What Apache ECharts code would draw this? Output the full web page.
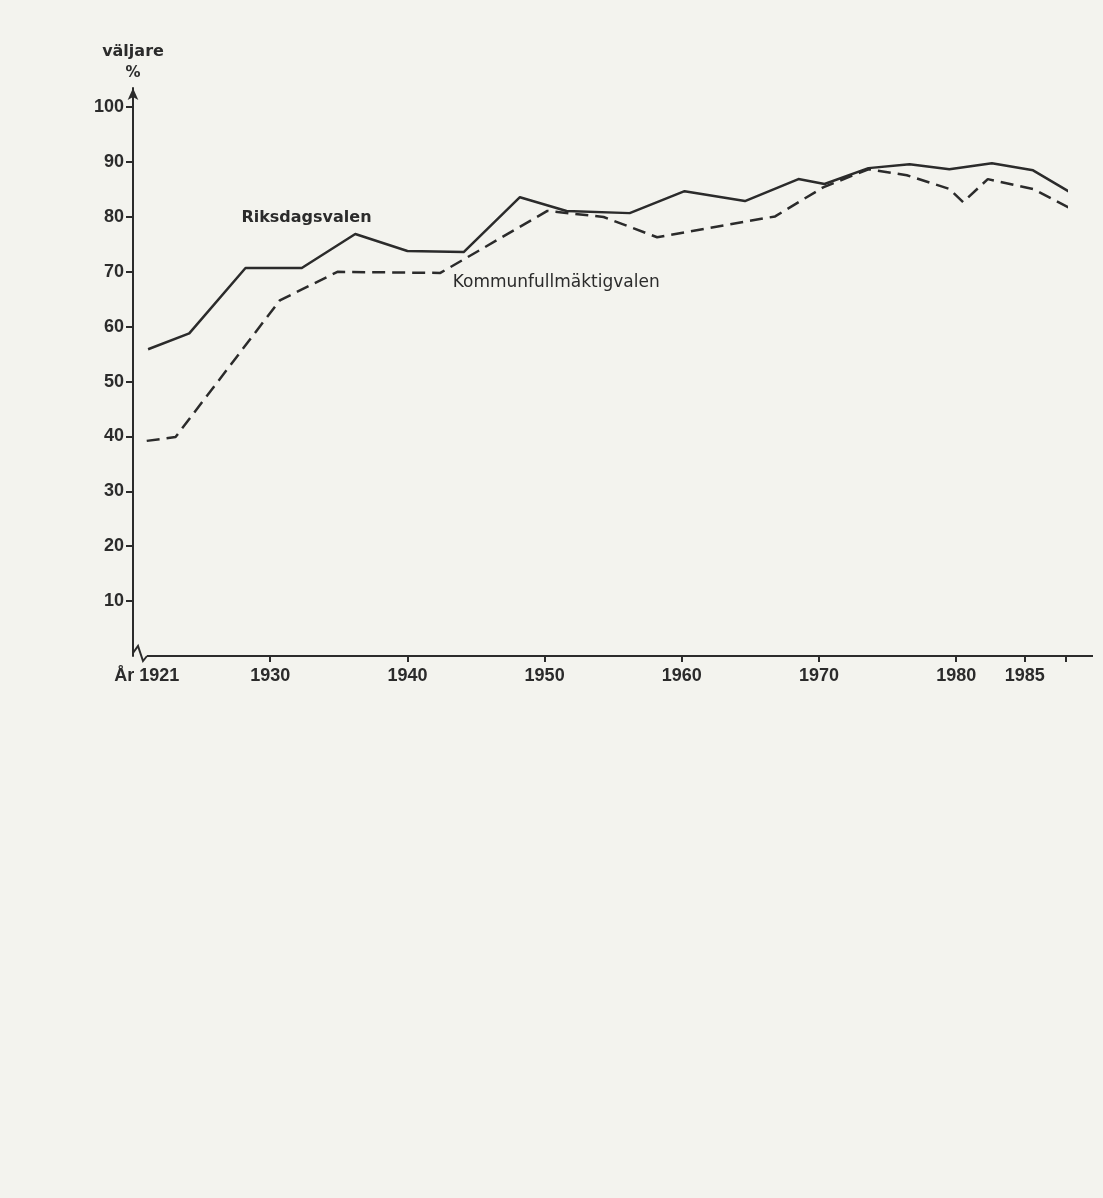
<!DOCTYPE html>
<html>
<head>
<meta charset="utf-8">
<script src="https://cdn.jsdelivr.net/npm/echarts@6/dist/echarts.min.js"></script>
<style>
html,body{margin:0;padding:0;background:#f3f3ee;}
#c{width:1103px;height:1198px;}
</style>
</head>
<body>
<div id="c"></div>
<script>
// Riksdagsvalen (solid)
var riksYears  = [1921.1, 1924.1, 1928.2, 1932.3, 1936.2, 1940.0, 1944.1, 1948.2, 1951.6, 1956.2, 1960.2, 1964.6, 1968.5, 1970.4, 1973.6, 1976.6, 1979.5, 1982.6, 1985.6, 1988.3];
var riksValues = [55.9, 58.8, 70.7, 70.7, 76.9, 73.8, 73.6, 83.6, 81.1, 80.7, 84.7, 82.9, 86.9, 86.0, 88.9, 89.6, 88.7, 89.8, 88.5, 84.5];
// Kommunfullmäktigvalen (dashed)
var kommYears  = [1921.0, 1923.1, 1930.7, 1934.9, 1942.4, 1950.2, 1954.3, 1958.2, 1966.8, 1970.3, 1973.6, 1976.4, 1979.5, 1980.5, 1982.3, 1985.6, 1988.3];
var kommValues = [39.2, 39.9, 64.8, 70.0, 69.8, 81.1, 80.0, 76.3, 80.1, 85.4, 88.7, 87.6, 85.1, 82.7, 86.9, 85.1, 81.6];
// Axis ticks / labels
var yTicks = [10, 20, 30, 40, 50, 60, 70, 80, 90, 100];
var xTicks = [1930, 1940, 1950, 1960, 1970, 1980, 1985, 1988];
var xLabels = [1921, 1930, 1940, 1950, 1960, 1970, 1980, 1985];
var seriesNames = ['Riksdagsvalen', 'Kommunfullmäktigvalen'];
var yTitle = ['väljare', '%'];
var firstLabelPrefix = 'År ';

function pairs(xs, ys){ return xs.map(function(x,i){ return [x, ys[i]]; }); }

var INK = '#2b2b2b';
var NUMFONT = '"Liberation Sans Narrow", "Liberation Sans", sans-serif';
var chart = echarts.init(document.getElementById('c'));
var option = {
  backgroundColor: '#f3f3ee',
  animation: false,
  grid: {left: 133, right: 37, top: 88, bottom: 542, containLabel: false},
  xAxis: {
    type: 'value', min: 1920, max: 1988,
    axisLine: {show: false},
    splitLine: {show: false},
    axisTick: {show: true, length: 6, inside: false, customValues: xTicks,
      lineStyle: {color: INK, width: 2}},
    axisLabel: {show: true, customValues: xLabels, margin: 11,
      color: INK, fontFamily: NUMFONT, fontSize: 18, fontWeight: 'bold',
      formatter: function(v){ return (v === xLabels[0] ? firstLabelPrefix : '') + v; }}
  },
  yAxis: {
    type: 'value', min: 0, max: 103.5,
    axisLine: {show: true, symbol: ['none', 'arrow'], symbolSize: [8, 12], symbolOffset: [0, 0],
      lineStyle: {color: INK, width: 2}},
    splitLine: {show: false},
    axisTick: {show: true, length: 7, customValues: yTicks, lineStyle: {color: INK, width: 2}},
    axisLabel: {show: true, customValues: yTicks, margin: 9,
      color: INK, fontFamily: NUMFONT, fontSize: 18, fontWeight: 'bold'}
  },
  series: [
    {name: seriesNames[0], type: 'line', data: pairs(riksYears, riksValues),
      showSymbol: false, symbol: 'none', lineStyle: {color: INK, width: 2.5, join: 'round'}},
    {name: seriesNames[1], type: 'line', data: pairs(kommYears, kommValues),
      showSymbol: false, symbol: 'none', lineStyle: {color: INK, width: 2.5, type: [13, 7]}}
  ]
};
chart.setOption(option);

// decorations positioned through the axes
var o = chart.convertToPixel({gridIndex: 0}, [1920, 0]);
var e = chart.convertToPixel({gridIndex: 0}, [1988, 0]);
var tip = chart.convertToPixel({gridIndex: 0}, [1920, 103.5]);
var rl = chart.convertToPixel({gridIndex: 0}, [1927.9, 79.8]);
var kl = chart.convertToPixel({gridIndex: 0}, [1943.3, 68.0]);
var x0 = o[0], y0 = o[1];
chart.setOption({
  graphic: [
    {type: 'polyline', shape: {points: [[x0, y0 - 3], [x0 + 5, y0 - 10], [x0 + 10, y0 + 5], [x0 + 14, y0]]},
      style: {stroke: INK, lineWidth: 2, fill: null}},
    {type: 'line', shape: {x1: x0 + 14, y1: y0, x2: e[0] + 27, y2: e[1]},
      style: {stroke: INK, lineWidth: 2}},
    {type: 'text', x: x0, y: tip[1] - 36, style: {text: yTitle[0], fill: INK,
      font: 'bold 16px "DejaVu Sans"', align: 'center', verticalAlign: 'middle'}},
    {type: 'text', x: x0, y: tip[1] - 15, style: {text: yTitle[1], fill: INK,
      font: 'bold 15px "DejaVu Sans"', align: 'center', verticalAlign: 'middle'}},
    {type: 'text', x: rl[0], y: rl[1], style: {text: seriesNames[0], fill: INK,
      font: 'bold 16px "DejaVu Sans"', align: 'left', verticalAlign: 'middle'}},
    {type: 'text', x: kl[0], y: kl[1], style: {text: seriesNames[1], fill: INK,
      font: '17px "DejaVu Sans"', align: 'left', verticalAlign: 'middle'}}
  ]
});
</script>
</body>
</html>
